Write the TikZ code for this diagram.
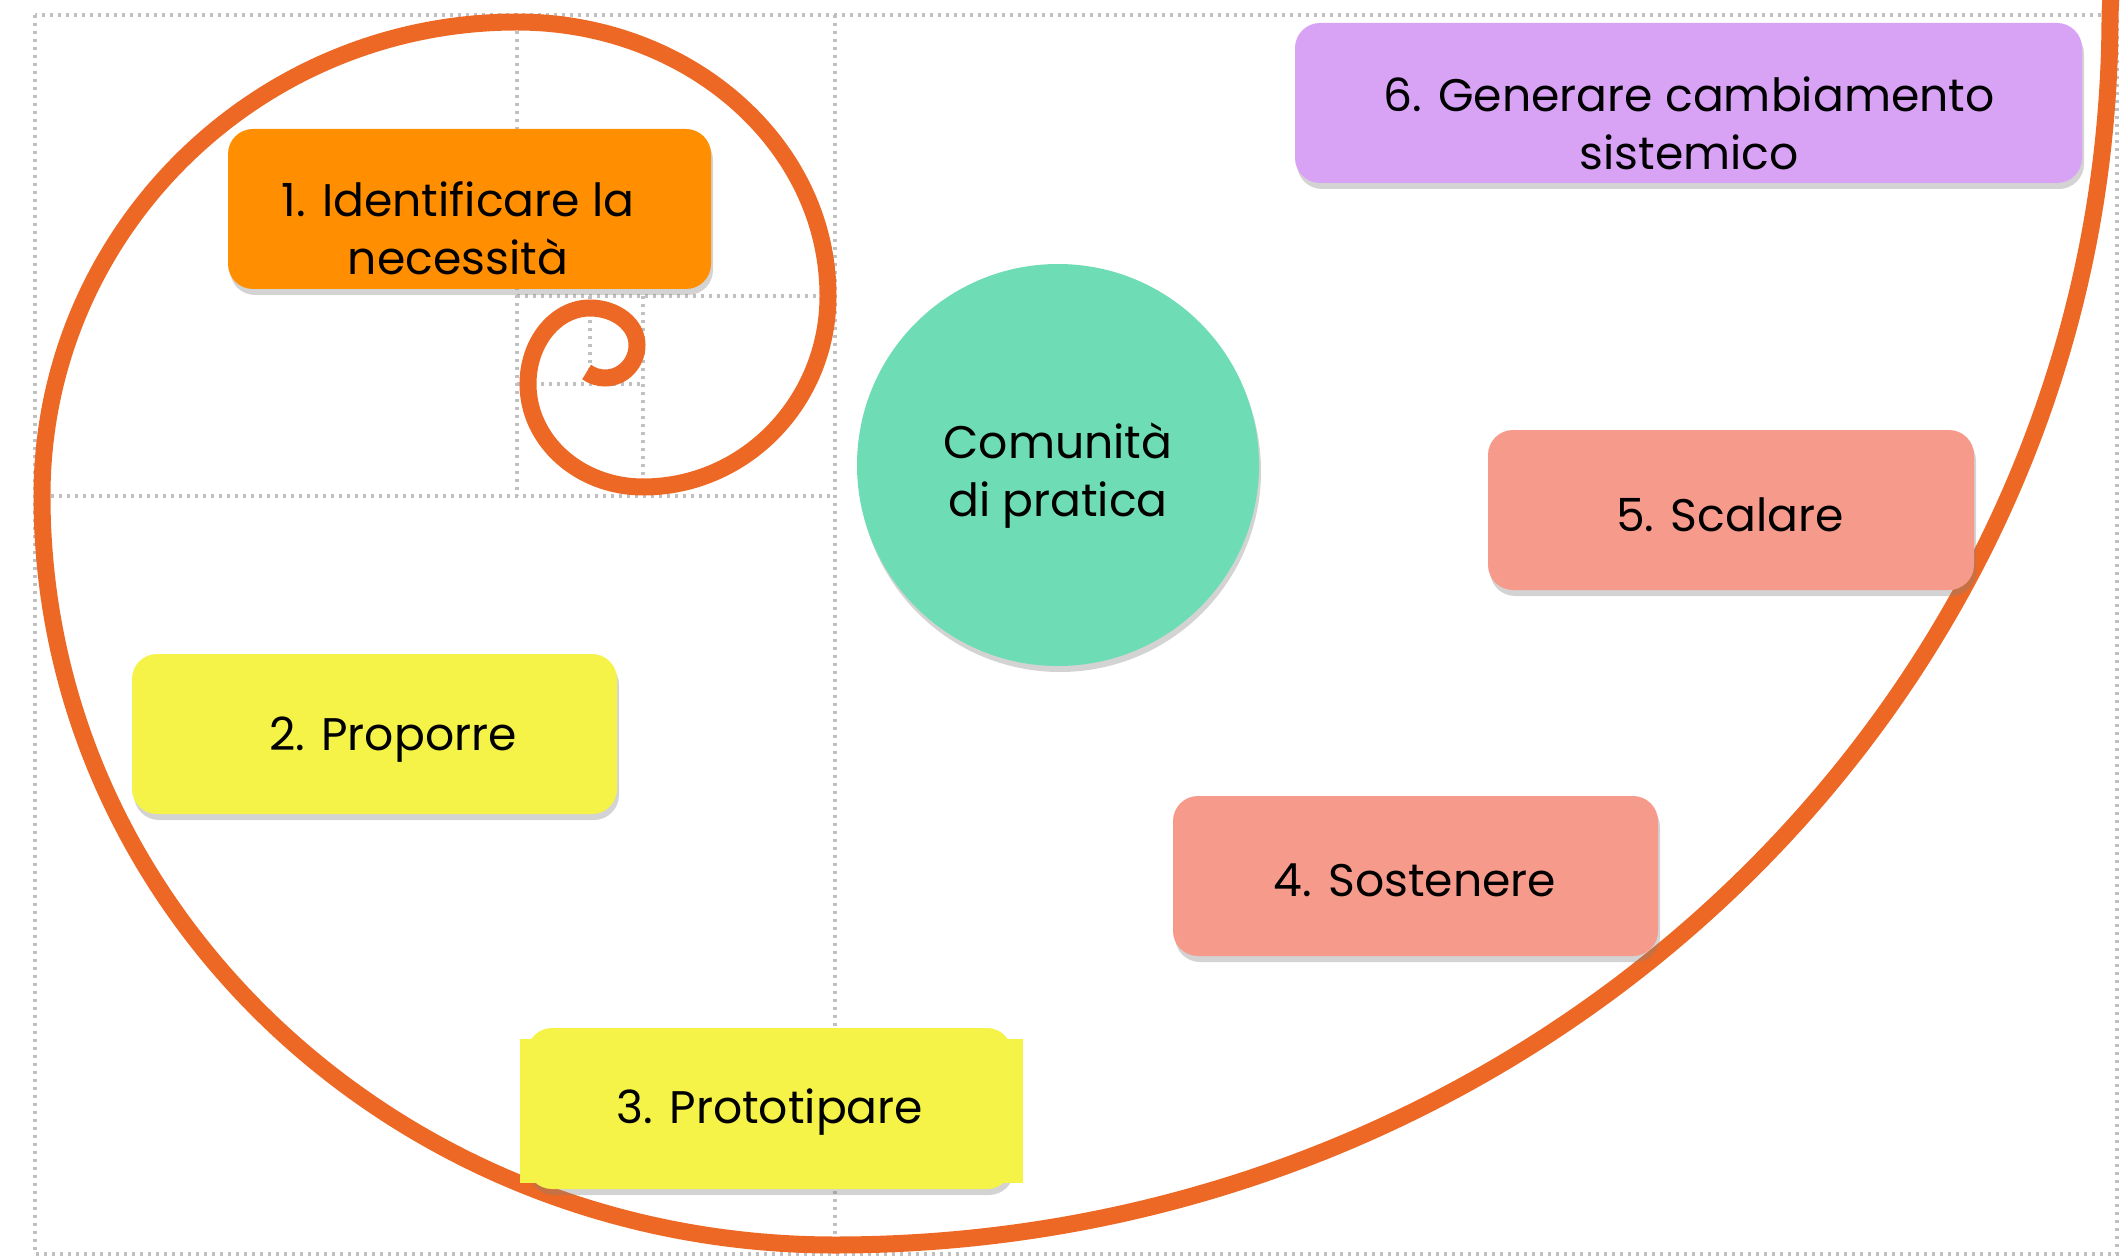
\documentclass[tikz,border=0pt]{standalone}
\usepackage{fontspec}
\setmainfont{Poppins}
\usepackage{tikz}
\usetikzlibrary{shadows}
\definecolor{spiralor}{RGB}{236,104,36}
\definecolor{needor}{RGB}{255,143,0}
\definecolor{propyel}{RGB}{245,243,72}
\definecolor{salmon}{RGB}{246,154,140}
\definecolor{lilac}{RGB}{216,162,245}
\definecolor{mint}{RGB}{110,220,180}
\definecolor{griddot}{RGB}{192,192,192}
\tikzset{
  gridline/.style={griddot, line width=0.04cm, dash pattern=on 0.03cm off 0.05cm},
  softshadow/.style={drop shadow={shadow xshift=0.02cm, shadow yshift=-0.06cm, opacity=0.35}},
  stepbox/.style={rounded corners=0.25cm, minimum width=4.85cm, minimum height=1.6cm, inner sep=0pt, softshadow},
  lbl/.style={align=center, font=\fontsize{13}{16.5}\selectfont, inner sep=0pt}
}

\begin{document}
\begin{tikzpicture}
\useasboundingbox (0,0) rectangle (21.27,-12.56);
\draw[gridline] (0.35,-0.15) rectangle (21.17,-12.54);
\draw[gridline] (8.35,-0.15) -- (8.35,-12.54);
\draw[gridline] (0.35,-4.96) -- (8.35,-4.96);
\draw[gridline] (5.17,-0.15) -- (5.17,-4.96);
\draw[gridline] (5.17,-2.96) -- (8.35,-2.96);
\draw[gridline] (6.43,-2.96) -- (6.43,-4.96);
\draw[gridline] (5.17,-3.84) -- (6.43,-3.84);
\draw[gridline] (5.90,-2.96) -- (5.90,-3.84);

\draw[spiralor, line width=0.17cm] (21.11,0.05) -- (21.10,-0.15)
  arc[start angle=0, end angle=-90, x radius=12.75, y radius=12.30]
  arc[start angle=-90, end angle=-180, x radius=7.93, y radius=7.49]
  arc[start angle=180, end angle=90, x radius=4.75, y radius=4.74]
  arc[start angle=90, end angle=0, x radius=3.11, y radius=2.74]
  arc[start angle=0, end angle=-90, x radius=1.85, y radius=1.91]
  arc[start angle=-90, end angle=-180, x radius=1.15, y radius=1.03]
  arc[start angle=180, end angle=90, x radius=0.62, y radius=0.76]
  arc[start angle=90, end angle=0, x radius=0.47, y radius=0.37]
  arc[start angle=0, end angle=-125, x radius=0.32, y radius=0.33];

\node[circle, fill=mint, minimum size=4.02cm, softshadow] (cop) at (10.58,-4.65) {};
\node[lbl] (coptxt) at (10.58,-4.76) {Comunità\\di pratica};

\node[stepbox, fill=needor, minimum width=4.83cm] (need) at (4.695,-2.09) {};
\node[lbl] (needtxt) at (4.58,-2.28) {1. Identificare la\\necessità};

\node[stepbox, fill=propyel] (propose) at (3.745,-7.34) {};
\node[lbl] (proposetxt) at (3.93,-7.40) {2. Proporre};

\node[stepbox, fill=propyel, minimum height=1.61cm] (proto) at (7.695,-11.085) {};
\node[fill=propyel, minimum width=5.03cm, minimum height=1.44cm, inner sep=0pt] (protoback) at (7.715,-11.11) {};
\node[lbl] (prototxt) at (7.70,-11.12) {3. Prototipare};

\node[stepbox, fill=salmon] (sustain) at (14.155,-8.76) {};
\node[lbl] (sustaintxt) at (14.15,-8.80) {4. Sostenere};

\node[stepbox, fill=salmon, minimum width=4.86cm] (scale) at (17.31,-5.10) {};
\node[lbl] (scaletxt) at (17.30,-5.15) {5. Scalare};

\node[stepbox, fill=lilac, minimum width=7.87cm] (change) at (16.885,-1.03) {};
\node[lbl] (changetxt) at (16.89,-1.23) {6. Generare cambiamento\\sistemico};
\end{tikzpicture}
\end{document}
